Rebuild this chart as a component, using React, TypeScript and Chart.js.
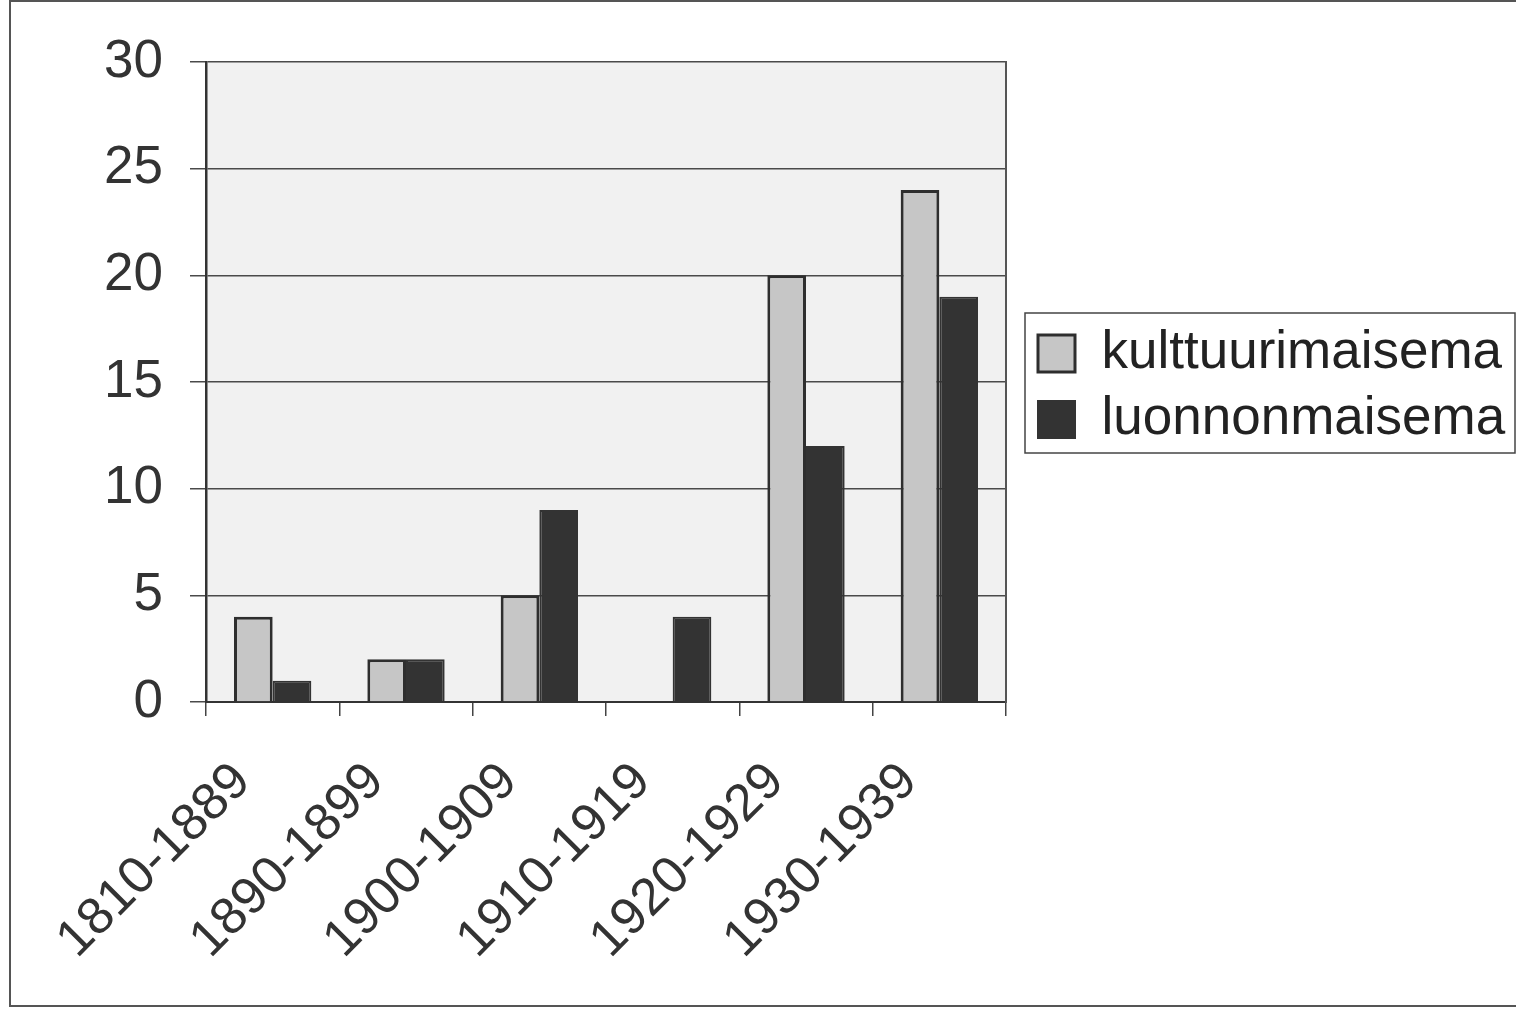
import React, { useEffect, useRef } from 'react';
import { Chart, registerables } from 'chart.js';

Chart.register(...registerables);

const categories = ['1810-1889', '1890-1899', '1900-1909', '1910-1919', '1920-1929', '1930-1939'];
const kulttuurimaisema = [4, 2, 5, 0, 20, 24];
const luonnonmaisema = [1, 2, 9, 4, 12, 19];
const seriesLabels = ['kulttuurimaisema', 'luonnonmaisema'];
const yTicks = [0, 5, 10, 15, 20, 25, 30];

const FONT = "'Liberation Sans', Arial, Helvetica, sans-serif";

export default function App() {
  const ref = useRef<HTMLCanvasElement>(null);

  useEffect(() => {
    if (!ref.current) return;

    const plotBg = {
      id: 'plotBg',
      beforeDraw(chart: any) {
        const { ctx, chartArea: a } = chart;
        ctx.save();
        ctx.fillStyle = '#f1f1f1';
        ctx.fillRect(a.left, a.top, a.right - a.left, a.bottom - a.top);
        ctx.restore();
      },
    };

    const frames = {
      id: 'frames',
      afterDraw(chart: any) {
        const ctx = chart.ctx;
        ctx.save();
        ctx.strokeStyle = '#555';
        ctx.lineWidth = 2;
        ctx.strokeRect(10, 1, chart.width + 20, 1005);
        const lg = chart.legend;
        const hb = lg && lg.legendHitBoxes;
        if (hb && hb.length) {
          const top = hb[0].top - 14;
          const last = hb[hb.length - 1];
          const bottom = last.top + last.height + 7;
          ctx.lineWidth = 1.5;
          ctx.strokeStyle = '#444';
          ctx.strokeRect(lg.left, top, lg.right - lg.left, bottom - top);
        }
        ctx.restore();
      },
    };

    const chart = new Chart(ref.current, {
      type: 'bar',
      data: {
        labels: categories,
        datasets: [
          {
            label: seriesLabels[0],
            data: kulttuurimaisema,
            backgroundColor: '#c6c6c6',
            borderColor: '#2e2e2e',
            borderWidth: 3,
            categoryPercentage: 0.58,
            barPercentage: 1.0,
          },
          {
            label: seriesLabels[1],
            data: luonnonmaisema,
            backgroundColor: '#333333',
            borderColor: '#333333',
            borderWidth: 2,
            categoryPercentage: 0.58,
            barPercentage: 1.0,
          },
        ],
      },
      options: {
        animation: false,
        responsive: true,
        maintainAspectRatio: false,
        layout: { padding: { top: 62, right: 1, bottom: 0, left: 0 } },
        plugins: {
          tooltip: { enabled: false },
          legend: {
            display: true,
            position: 'right',
            align: 'center',
            fullSize: false,
            maxWidth: 490,
            title: { display: true, text: '', font: { size: 9, lineHeight: 1 }, padding: 0 },
            labels: {
              color: '#222',
              font: { family: FONT, size: 53 },
              boxWidth: 37,
              boxHeight: 37,
              padding: 13,
            },
          },
        },
        scales: {
          x: {
            offset: true,
            grid: {
              display: true,
              offset: true,
              drawOnChartArea: false,
              drawTicks: true,
              tickLength: 14,
              color: '#444',
              lineWidth: 1.5,
            },
            border: { display: true, color: '#333', width: 2 },
            ticks: {
              autoSkip: false,
              maxRotation: 45,
              minRotation: 45,
              color: '#333',
              font: { family: FONT, size: 52 },
              padding: 35,
              labelOffset: -30,
            },
            afterFit: (s: any) => {
              s.height = 310;
            },
          },
          y: {
            min: 0,
            max: 30,
            afterBuildTicks: (s: any) => {
              s.ticks = yTicks.map((v) => ({ value: v }));
            },
            ticks: {
              color: '#333',
              font: { family: FONT, size: 53 },
              padding: 27,
            },
            grid: { color: '#4a4a4a', lineWidth: 1.5, tickLength: 16, drawTicks: true },
            border: { display: true, color: '#333', width: 2.5 },
            afterFit: (s: any) => {
              s.width = 206;
            },
          },
          y2: {
            position: 'right',
            min: 0,
            max: 30,
            display: true,
            ticks: { display: false },
            grid: { drawOnChartArea: false, drawTicks: false },
            border: { display: true, color: '#555', width: 2 },
            afterFit: (s: any) => {
              s.width = 19;
            },
          },
        },
      },
      plugins: [plotBg, frames],
    } as any);

    return () => chart.destroy();
  }, []);

  return (
    <div style={{ position: 'absolute', left: 0, top: 0, width: 1516, height: 1012, background: '#fff' }}>
      <canvas ref={ref} />
    </div>
  );
}
